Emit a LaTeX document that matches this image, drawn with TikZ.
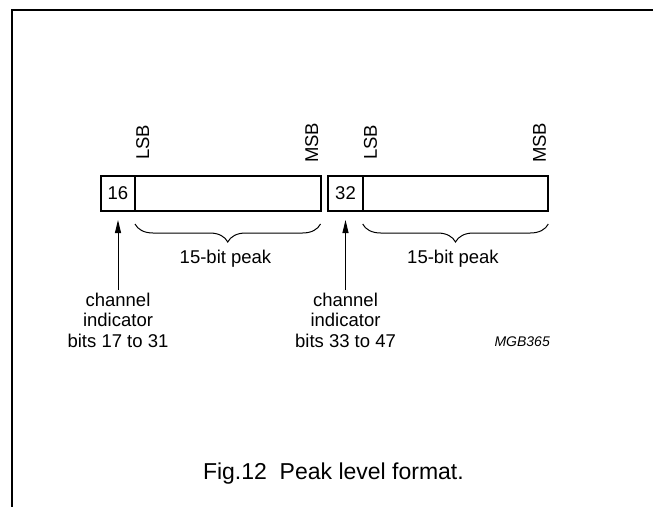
\documentclass[tikz,border=0pt]{standalone}
\usepackage{fontspec}
\setmainfont{Liberation Sans}
\usetikzlibrary{arrows.meta,decorations.pathreplacing}

\begin{document}
\begin{tikzpicture}[x=1pt,y=1pt,
        field/.style={draw,line width=2pt,inner sep=0,outer sep=0,minimum height=35pt,
                      font=\fontsize{18.5}{20}\selectfont},
        bitlbl/.style={rotate=90,inner sep=0,font=\fontsize{18.5}{20}\selectfont},
        note/.style={align=center,inner sep=0,font=\fontsize{18.5}{20.5}\selectfont},
        peakbrace/.style={decorate,decoration={brace,mirror,amplitude=18pt},line width=1pt},
        pointer/.style={-{Triangle[length=13pt,width=6pt]},line width=1pt}]
    \useasboundingbox (0,0) rectangle (653,507);

    % Frame round the figure
    \draw[line width=1.5pt] (653,497) -- (12,497) -- (12,0);

    % Place the fields
    \node[field,minimum width=34pt] (ind1) at (118,313.5) {16};
    \node[field,minimum width=185.5pt,anchor=west] (peak1) at (ind1.east) {};
    \node[field,minimum width=34.4pt] (ind2) at (345.5,313.5) {32};
    \node[field,minimum width=185.6pt,anchor=west] (peak2) at (ind2.east) {};

    % Bit order labels
    \node[bitlbl,anchor=north west] (lsb1) at ([xshift=1pt,yshift=16pt]ind1.north east) {LSB};
    \node[bitlbl,anchor=south west] (msb1) at ([xshift=-2pt,yshift=13pt]peak1.north east) {MSB};
    \node[bitlbl,anchor=north west] (lsb2) at ([xshift=1pt,yshift=16pt]ind2.north east) {LSB};
    \node[bitlbl,anchor=south west] (msb2) at ([xshift=-2pt,yshift=13pt]peak2.north east) {MSB};

    % Braces under the peak fields
    \draw[peakbrace] ([yshift=-13pt]peak1.south west) -- ([yshift=-13pt]peak1.south east);
    \draw[peakbrace] ([yshift=-13pt]peak2.south west) -- ([yshift=-13pt]peak2.south east);
    \node[note,anchor=base] (pk1) at (225.5,244) {15-bit peak};
    \node[note,anchor=base] (pk2) at (453,244) {15-bit peak};

    % Channel indicators
    \node[note,anchor=north] (ch1) at (118,214.5) {channel\\indicator\\bits 17 to 31};
    \node[note,anchor=north] (ch2) at (345.5,214.5) {channel\\indicator\\bits 33 to 47};
    \draw[pointer] ([yshift=3pt]ch1.north) -- ([yshift=-9pt]ind1.south);
    \draw[pointer] ([yshift=3pt]ch2.north) -- ([yshift=-9pt]ind2.south);

    % Code and caption
    \node[inner sep=0,anchor=base east,font=\fontsize{14}{16}\selectfont\itshape] (code) at (550,160.3) {MGB365};
    \node[inner sep=0,anchor=base,font=\fontsize{23}{26}\selectfont] (caption) at (333.4,28) {Fig.12\ \ Peak level format.};
\end{tikzpicture}
\end{document}
